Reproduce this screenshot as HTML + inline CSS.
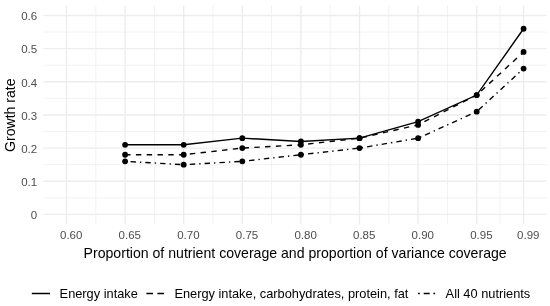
<!DOCTYPE html>
<html><head><meta charset="utf-8"><style>
html,body{margin:0;padding:0;background:#fff;width:550px;height:306px;overflow:hidden}
svg{display:block;will-change:transform}
text{font-family:"Liberation Sans",sans-serif}
.tk{font-size:11.5px;fill:#4d4d4d}
.ti{font-size:14.1px;fill:#000}
.lg{font-size:12.8px;fill:#000}
</style></head><body>
<svg width="550" height="306" viewBox="0 0 550 306">
<rect width="550" height="306" fill="#fff"/>
<line x1="43.3" x2="546.4" y1="197.83" y2="197.83" stroke="#ededed" stroke-width="0.7"/>
<line x1="43.3" x2="546.4" y1="164.68" y2="164.68" stroke="#ededed" stroke-width="0.7"/>
<line x1="43.3" x2="546.4" y1="131.53" y2="131.53" stroke="#ededed" stroke-width="0.7"/>
<line x1="43.3" x2="546.4" y1="98.38" y2="98.38" stroke="#ededed" stroke-width="0.7"/>
<line x1="43.3" x2="546.4" y1="65.22" y2="65.22" stroke="#ededed" stroke-width="0.7"/>
<line x1="43.3" x2="546.4" y1="32.07" y2="32.07" stroke="#ededed" stroke-width="0.7"/>
<line y1="5.5" y2="224.0" x1="95.80" x2="95.80" stroke="#ededed" stroke-width="0.7"/>
<line y1="5.5" y2="224.0" x1="154.40" x2="154.40" stroke="#ededed" stroke-width="0.7"/>
<line y1="5.5" y2="224.0" x1="213.00" x2="213.00" stroke="#ededed" stroke-width="0.7"/>
<line y1="5.5" y2="224.0" x1="271.60" x2="271.60" stroke="#ededed" stroke-width="0.7"/>
<line y1="5.5" y2="224.0" x1="330.20" x2="330.20" stroke="#ededed" stroke-width="0.7"/>
<line y1="5.5" y2="224.0" x1="388.80" x2="388.80" stroke="#ededed" stroke-width="0.7"/>
<line y1="5.5" y2="224.0" x1="447.40" x2="447.40" stroke="#ededed" stroke-width="0.7"/>
<line y1="5.5" y2="224.0" x1="500.14" x2="500.14" stroke="#ededed" stroke-width="0.7"/>
<line x1="43.3" x2="546.4" y1="214.40" y2="214.40" stroke="#ededed" stroke-width="1.4"/>
<line x1="43.3" x2="546.4" y1="181.25" y2="181.25" stroke="#ededed" stroke-width="1.4"/>
<line x1="43.3" x2="546.4" y1="148.10" y2="148.10" stroke="#ededed" stroke-width="1.4"/>
<line x1="43.3" x2="546.4" y1="114.95" y2="114.95" stroke="#ededed" stroke-width="1.4"/>
<line x1="43.3" x2="546.4" y1="81.80" y2="81.80" stroke="#ededed" stroke-width="1.4"/>
<line x1="43.3" x2="546.4" y1="48.65" y2="48.65" stroke="#ededed" stroke-width="1.4"/>
<line x1="43.3" x2="546.4" y1="15.50" y2="15.50" stroke="#ededed" stroke-width="1.4"/>
<line y1="5.5" y2="224.0" x1="66.50" x2="66.50" stroke="#ededed" stroke-width="1.4"/>
<line y1="5.5" y2="224.0" x1="125.10" x2="125.10" stroke="#ededed" stroke-width="1.4"/>
<line y1="5.5" y2="224.0" x1="183.70" x2="183.70" stroke="#ededed" stroke-width="1.4"/>
<line y1="5.5" y2="224.0" x1="242.30" x2="242.30" stroke="#ededed" stroke-width="1.4"/>
<line y1="5.5" y2="224.0" x1="300.90" x2="300.90" stroke="#ededed" stroke-width="1.4"/>
<line y1="5.5" y2="224.0" x1="359.50" x2="359.50" stroke="#ededed" stroke-width="1.4"/>
<line y1="5.5" y2="224.0" x1="418.10" x2="418.10" stroke="#ededed" stroke-width="1.4"/>
<line y1="5.5" y2="224.0" x1="476.70" x2="476.70" stroke="#ededed" stroke-width="1.4"/>
<line y1="5.5" y2="224.0" x1="523.58" x2="523.58" stroke="#ededed" stroke-width="1.4"/>
<polyline points="125.10,144.79 183.70,144.79 242.30,138.16 300.90,141.47 359.50,138.16 418.10,121.58 476.70,95.06 523.58,28.76" fill="none" stroke="#000" stroke-width="1.4"/>
<polyline points="125.10,154.73 183.70,154.73 242.30,148.10 300.90,144.79 359.50,138.16 418.10,124.89 476.70,95.06 523.58,51.97" fill="none" stroke="#000" stroke-width="1.4" stroke-dasharray="5.4 5.4"/>
<polyline points="125.10,161.36 183.70,164.68 242.30,161.36 300.90,154.73 359.50,148.10 418.10,138.16 476.70,111.64 523.58,68.54" fill="none" stroke="#000" stroke-width="1.4" stroke-dasharray="1.35 4.05 5.4 4.05"/>
<circle cx="125.10" cy="144.79" r="2.9" fill="#000"/>
<circle cx="183.70" cy="144.79" r="2.9" fill="#000"/>
<circle cx="242.30" cy="138.16" r="2.9" fill="#000"/>
<circle cx="300.90" cy="141.47" r="2.9" fill="#000"/>
<circle cx="359.50" cy="138.16" r="2.9" fill="#000"/>
<circle cx="418.10" cy="121.58" r="2.9" fill="#000"/>
<circle cx="476.70" cy="95.06" r="2.9" fill="#000"/>
<circle cx="523.58" cy="28.76" r="2.9" fill="#000"/>
<circle cx="125.10" cy="154.73" r="2.9" fill="#000"/>
<circle cx="183.70" cy="154.73" r="2.9" fill="#000"/>
<circle cx="242.30" cy="148.10" r="2.9" fill="#000"/>
<circle cx="300.90" cy="144.79" r="2.9" fill="#000"/>
<circle cx="359.50" cy="138.16" r="2.9" fill="#000"/>
<circle cx="418.10" cy="124.89" r="2.9" fill="#000"/>
<circle cx="476.70" cy="95.06" r="2.9" fill="#000"/>
<circle cx="523.58" cy="51.97" r="2.9" fill="#000"/>
<circle cx="125.10" cy="161.36" r="2.9" fill="#000"/>
<circle cx="183.70" cy="164.68" r="2.9" fill="#000"/>
<circle cx="242.30" cy="161.36" r="2.9" fill="#000"/>
<circle cx="300.90" cy="154.73" r="2.9" fill="#000"/>
<circle cx="359.50" cy="148.10" r="2.9" fill="#000"/>
<circle cx="418.10" cy="138.16" r="2.9" fill="#000"/>
<circle cx="476.70" cy="111.64" r="2.9" fill="#000"/>
<circle cx="523.58" cy="68.54" r="2.9" fill="#000"/>
<text x="37.2" y="219.10" text-anchor="end" class="tk">0</text>
<text x="37.2" y="185.95" text-anchor="end" class="tk">0.1</text>
<text x="37.2" y="152.80" text-anchor="end" class="tk">0.2</text>
<text x="37.2" y="119.65" text-anchor="end" class="tk">0.3</text>
<text x="37.2" y="86.50" text-anchor="end" class="tk">0.4</text>
<text x="37.2" y="53.35" text-anchor="end" class="tk">0.5</text>
<text x="37.2" y="20.20" text-anchor="end" class="tk">0.6</text>
<text x="71.20" y="238.8" text-anchor="middle" class="tk">0.60</text>
<text x="129.80" y="238.8" text-anchor="middle" class="tk">0.65</text>
<text x="188.40" y="238.8" text-anchor="middle" class="tk">0.70</text>
<text x="247.00" y="238.8" text-anchor="middle" class="tk">0.75</text>
<text x="305.60" y="238.8" text-anchor="middle" class="tk">0.80</text>
<text x="364.20" y="238.8" text-anchor="middle" class="tk">0.85</text>
<text x="422.80" y="238.8" text-anchor="middle" class="tk">0.90</text>
<text x="481.40" y="238.8" text-anchor="middle" class="tk">0.95</text>
<text x="528.28" y="238.8" text-anchor="middle" class="tk">0.99</text>
<text x="83.6" y="258.4" class="ti">Proportion of nutrient coverage and proportion of variance coverage</text>
<text transform="translate(14.7,152.0) rotate(-90)" class="ti">Growth rate</text>
<line x1="31.8" x2="50" y1="293.5" y2="293.5" stroke="#000" stroke-width="1.5"/>
<line x1="146.4" x2="164.0" y1="293.5" y2="293.5" stroke="#000" stroke-width="1.5" stroke-dasharray="6.6 4.4"/>
<line x1="418.1" x2="435.1" y1="293.5" y2="293.5" stroke="#000" stroke-width="1.5" stroke-dasharray="1.7 3.9 6.0 3.7"/>
<text x="59.6" y="298.4" class="lg">Energy intake</text>
<text x="174.4" y="298.4" class="lg">Energy intake, carbohydrates, protein, fat</text>
<text x="445.6" y="298.4" class="lg">All 40 nutrients</text>
</svg>
</body></html>
